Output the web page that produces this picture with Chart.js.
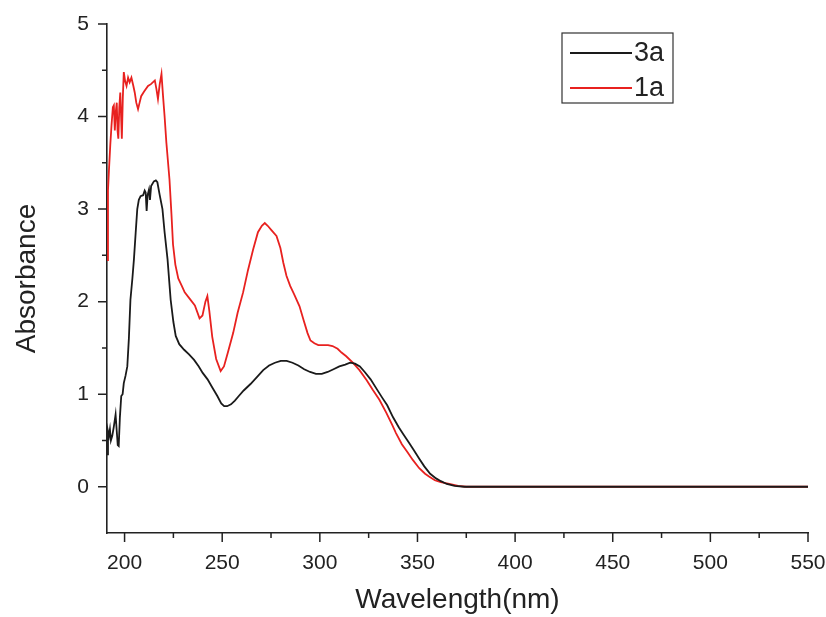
<!DOCTYPE html>
<html>
<head>
<meta charset="utf-8">
<script src="https://cdn.jsdelivr.net/npm/chart.js@4.4.1/dist/chart.umd.min.js"></script>
<style>
  html, body { margin: 0; padding: 0; background: #fff; }
  #wrap { width: 826px; height: 617px; }
</style>
</head>
<body>
<div id="wrap"><canvas id="chart" width="826" height="617"></canvas></div>
<script>
// 3a 光譜（黑線）
const wl3a = [191, 191.5, 192, 192.5, 193, 193.7, 194.5, 195.4, 196, 196.5, 197, 197.6, 198.3, 199, 199.6,
  200.5, 201.4, 202.2, 203, 204, 204.8, 205.7, 206.5, 207.3, 208.2, 209.5, 210.3, 210.8, 211.3, 211.8,
  212.5, 213, 213.6, 215, 216, 216.8, 218, 219.4, 220.5, 222, 223.6, 225, 226.2, 228, 230.5, 233,
  235.6, 238, 240, 242.5, 245, 247.5, 249.5, 251, 252.5, 254.5, 256.5, 258.5, 261, 264.5, 268, 271,
  274, 277, 280, 283, 286, 289, 292, 295, 298, 301, 304, 307, 310, 313, 315.5, 318, 320.5, 323,
  326, 329, 332, 334.5, 337.5, 340.5, 343, 345.5, 348, 351, 353.5, 356.5, 359.5, 362, 365, 369, 374,
  400, 450, 500, 550];
const abs3a = [0.35, 0.6, 0.55, 0.62, 0.5, 0.55, 0.65, 0.78, 0.6, 0.45, 0.44, 0.75, 0.98, 1.0, 1.12,
  1.2, 1.3, 1.6, 2.02, 2.25, 2.46, 2.75, 3.0, 3.1, 3.14, 3.15, 3.2, 3.18, 2.98, 3.15,
  3.21, 3.1, 3.25, 3.3, 3.31, 3.29, 3.15, 3.0, 2.75, 2.46, 2.02, 1.78, 1.63, 1.54, 1.48, 1.43,
  1.37, 1.3, 1.23, 1.16, 1.07, 0.98, 0.9, 0.87, 0.87, 0.89, 0.93, 0.98, 1.04, 1.11, 1.19, 1.26,
  1.31, 1.34, 1.36, 1.36, 1.34, 1.31, 1.27, 1.24, 1.22, 1.22, 1.24, 1.27, 1.3, 1.32, 1.34, 1.33, 1.3, 1.24,
  1.16, 1.06, 0.96, 0.88, 0.75, 0.64, 0.56, 0.48, 0.4, 0.3, 0.22, 0.14, 0.09, 0.06, 0.03, 0.01, 0,
  0, 0, 0, 0];

// 1a 光譜（紅線）
const wl1a = [191, 191.5, 192, 192.7, 193.3, 194, 194.5, 195, 195.5, 196, 196.4, 196.8, 197.3, 197.8,
  198.3, 198.6, 199.1, 199.6, 200.3, 201, 201.8, 202.6, 203.5, 204.5, 205.2, 206, 206.9, 207.7, 208.5,
  210, 212, 213.5, 215.5, 216.3, 217.1, 218, 218.9, 219.7, 220.5, 221.4, 223, 224, 224.8, 226, 227.5,
  229.3, 230.8, 233.4, 236, 238.4, 239.9, 241.4, 242.4, 243.4, 244.9, 246.9, 249.2, 250.9, 252.9, 255.6,
  257.9, 260.7, 263.2, 265.8, 268.3, 270.3, 271.8, 273.3, 275.3, 277.8, 279.8, 281.3, 282.9, 284.8, 286.8,
  289.6, 291.7, 293.7, 295.2, 297.2, 299.2, 302.2, 304.2, 306.5, 309.1, 311.1, 313.5, 316.9, 320.3, 324,
  327, 330.5, 334, 337, 339, 342, 345, 347.6, 350.9, 353.9, 355.9, 358.9, 361.9, 366.3, 370.8, 375,
  400, 450, 500, 550];
const abs1a = [2.45, 3.2, 3.42, 3.7, 3.9, 4.1, 4.12, 3.85, 4.05, 4.15, 3.85, 3.76, 4.1, 4.26,
  3.95, 3.76, 4.2, 4.48, 4.38, 4.33, 4.42, 4.37, 4.42, 4.33, 4.26, 4.15, 4.08, 4.15, 4.22,
  4.27, 4.33, 4.35, 4.39, 4.3, 4.19, 4.35, 4.46, 4.22, 4.0, 3.72, 3.32, 2.95, 2.62, 2.4, 2.25,
  2.17, 2.1, 2.03, 1.96, 1.82, 1.85, 2.0, 2.06, 1.9, 1.62, 1.38, 1.25, 1.3, 1.45, 1.66,
  1.88, 2.1, 2.34, 2.56, 2.75, 2.82, 2.85, 2.82, 2.77, 2.71, 2.58, 2.42, 2.28, 2.17, 2.08,
  1.95, 1.8, 1.66, 1.58, 1.55, 1.53, 1.53, 1.53, 1.52, 1.49, 1.45, 1.41, 1.34, 1.26, 1.15,
  1.05, 0.94, 0.8, 0.67, 0.58, 0.46, 0.37, 0.29, 0.2, 0.14, 0.11, 0.07, 0.05, 0.03, 0.01, 0,
  0, 0, 0, 0];

// 刻度
const xTicks = [200, 250, 300, 350, 400, 450, 500, 550];
const xMinorTicks = [225, 275, 325, 375, 425, 475, 525];
const yTicks = [0, 1, 2, 3, 4, 5];
const yMinorTicks = [0.5, 1.5, 2.5, 3.5, 4.5];

const seriesLabels = ['3a', '1a'];
const seriesColors = ['#1a1a1a', '#e8211f'];

const axisColor = '#222';
const fontFamily = '"Liberation Sans", Arial, sans-serif';

function toPoints(xs, ys) {
  return xs.map((x, i) => ({ x: x, y: ys[i] }));
}

// 手動畫刻度線（主刻度長、次刻度短）
const tickMarks = {
  id: 'tickMarks',
  afterDraw(chart) {
    const { ctx, chartArea } = chart;
    const x = chart.scales.x;
    const y = chart.scales.y;
    ctx.save();
    ctx.strokeStyle = axisColor;
    ctx.lineWidth = 1.5;
    ctx.beginPath();
    xTicks.forEach(v => {
      const px = x.getPixelForValue(v);
      ctx.moveTo(px, chartArea.bottom);
      ctx.lineTo(px, chartArea.bottom + 9);
    });
    xMinorTicks.forEach(v => {
      const px = x.getPixelForValue(v);
      ctx.moveTo(px, chartArea.bottom);
      ctx.lineTo(px, chartArea.bottom + 5);
    });
    yTicks.forEach(v => {
      const py = y.getPixelForValue(v);
      ctx.moveTo(chartArea.left, py);
      ctx.lineTo(chartArea.left - 9, py);
    });
    yMinorTicks.forEach(v => {
      const py = y.getPixelForValue(v);
      ctx.moveTo(chartArea.left, py);
      ctx.lineTo(chartArea.left - 5, py);
    });
    ctx.stroke();
    ctx.restore();
  }
};

// 有外框的圖例
const boxLegend = {
  id: 'boxLegend',
  afterDraw(chart) {
    const ctx = chart.ctx;
    const left = 562, top = 33, w = 111, h = 70;
    ctx.save();
    ctx.strokeStyle = '#333';
    ctx.lineWidth = 1.2;
    ctx.strokeRect(left, top, w, h);
    ctx.font = '27px ' + fontFamily;
    ctx.textBaseline = 'middle';
    chart.data.datasets.forEach((ds, i) => {
      const cy = top + 20 + i * 35;
      ctx.strokeStyle = ds.borderColor;
      ctx.lineWidth = 2;
      ctx.beginPath();
      ctx.moveTo(left + 8, cy);
      ctx.lineTo(left + 70, cy);
      ctx.stroke();
      ctx.fillStyle = '#222';
      ctx.fillText(ds.label, left + 72, cy + 1);
    });
    ctx.restore();
  }
};

new Chart(document.getElementById('chart'), {
  type: 'line',
  data: {
    datasets: [
      {
        label: seriesLabels[0],
        data: toPoints(wl3a, abs3a),
        borderColor: seriesColors[0],
        borderWidth: 1.8,
        pointRadius: 0,
        tension: 0
      },
      {
        label: seriesLabels[1],
        data: toPoints(wl1a, abs1a),
        borderColor: seriesColors[1],
        borderWidth: 1.8,
        pointRadius: 0,
        tension: 0
      }
    ]
  },
  options: {
    responsive: false,
    animation: false,
    layout: { padding: { top: 24, right: 0, left: 0, bottom: 0 } },
    plugins: {
      legend: { display: false },
      tooltip: { enabled: false }
    },
    scales: {
      x: {
        type: 'linear',
        min: 191,
        max: 550,
        afterBuildTicks: s => { s.ticks = xTicks.map(v => ({ value: v })); },
        afterFit: s => { s.height = 84; s.paddingRight = 18; s.paddingLeft = 0; },
        grid: { display: false },
        border: { display: true, color: axisColor, width: 1.6 },
        ticks: {
          color: '#222',
          padding: 10,
          maxRotation: 0,
          font: { family: fontFamily, size: 21 }
        },
        title: {
          display: true,
          text: 'Wavelength(nm)',
          color: '#222',
          padding: { top: 0, bottom: 0 },
          font: { family: fontFamily, size: 28 }
        }
      },
      y: {
        type: 'linear',
        min: -0.5,
        max: 5,
        afterBuildTicks: s => { s.ticks = yTicks.map(v => ({ value: v })); },
        afterFit: s => { s.width = 107; s.paddingTop = 0; s.paddingBottom = 0; },
        grid: { display: false },
        border: { display: true, color: axisColor, width: 1.6 },
        ticks: {
          color: '#222',
          padding: 10,
          font: { family: fontFamily, size: 21 }
        },
        title: {
          display: true,
          text: 'Absorbance',
          color: '#222',
          padding: { top: 10, bottom: 0 },
          font: { family: fontFamily, size: 28 }
        }
      }
    }
  },
  plugins: [tickMarks, boxLegend]
});
</script>
</body>
</html>
